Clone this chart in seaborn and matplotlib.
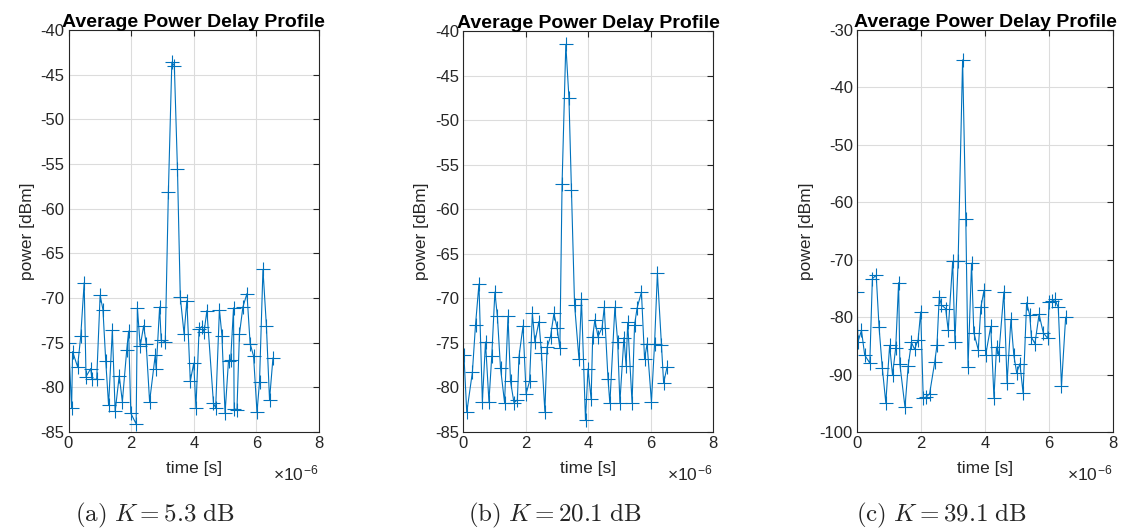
import numpy as np
import pandas as pd
import matplotlib
matplotlib.use("Agg")
import matplotlib.pyplot as plt
import seaborn as sns

# time axis in units of 1e-6 s, power in dBm
time_a = [0.00, 0.10, 0.13, 0.29, 0.39, 0.50, 0.56, 0.71, 0.75, 0.90, 1.01, 1.10,
          1.19, 1.28, 1.40, 1.49, 1.62, 1.72, 1.86, 1.92, 1.99, 2.16, 2.20, 2.29,
          2.40, 2.48, 2.59, 2.77, 2.80, 2.91, 2.96, 3.09, 3.19, 3.30, 3.38, 3.48,
          3.57, 3.69, 3.78, 3.89, 4.00, 4.07, 4.17, 4.26, 4.33, 4.42, 4.63, 4.70,
          4.82, 4.90, 5.00, 5.11, 5.18, 5.27, 5.29, 5.38, 5.46, 5.57, 5.70, 5.80,
          5.91, 6.02, 6.10, 6.21, 6.32, 6.42, 6.53]
power_a = [-75.0, -82.3, -76.0, -77.7, -74.3, -68.3, -78.8, -77.9, -79.1, -79.1, -69.7, -71.3,
           -77.1, -82.0, -73.6, -82.7, -78.7, -81.6, -75.8, -73.7, -82.9, -84.1, -71.1, -75.4,
           -73.1, -75.1, -81.6, -76.4, -78.0, -71.0, -74.7, -74.9, -58.1, -43.6, -44.0, -55.6,
           -69.9, -74.0, -70.3, -79.3, -77.3, -82.3, -73.5, -73.2, -73.8, -71.4, -81.8, -82.3,
           -71.3, -74.2, -82.9, -77.0, -76.9, -71.1, -82.4, -82.5, -74.0, -71.0, -69.5, -75.1,
           -76.5, -82.8, -79.4, -66.8, -73.1, -81.4, -76.7]

time_b = [0.03, 0.12, 0.30, 0.40, 0.51, 0.62, 0.72, 0.83, 0.92, 1.02, 1.10, 1.20,
          1.33, 1.44, 1.52, 1.63, 1.74, 1.79, 1.92, 2.02, 2.13, 2.22, 2.30, 2.43,
          2.51, 2.62, 2.69, 2.80, 2.91, 3.01, 3.10, 3.17, 3.29, 3.39, 3.47, 3.57,
          3.71, 3.79, 3.92, 4.00, 4.10, 4.15, 4.22, 4.32, 4.45, 4.52, 4.64, 4.70,
          4.86, 4.95, 5.02, 5.15, 5.22, 5.27, 5.41, 5.49, 5.57, 5.71, 5.81, 5.89,
          6.03, 6.13, 6.22, 6.35, 6.42, 6.53]
power_b = [-76.4, -82.8, -78.3, -73.0, -68.4, -81.6, -74.9, -81.6, -76.5, -69.3, -72.0, -77.8,
           -81.7, -72.0, -79.3, -81.7, -81.4, -76.6, -73.1, -80.7, -79.3, -71.7, -74.9, -72.6,
           -76.1, -82.7, -75.5, -74.3, -71.7, -73.3, -75.6, -57.2, -41.5, -47.5, -57.8, -70.7,
           -76.8, -70.1, -83.7, -77.9, -81.3, -74.3, -72.4, -74.3, -73.3, -71.0, -79.0, -81.8,
           -71.0, -74.9, -81.7, -74.4, -77.6, -72.7, -81.7, -73.0, -71.1, -69.3, -76.8, -75.1,
           -81.6, -75.1, -67.2, -75.2, -79.5, -77.7]

time_c = [0.00, 0.03, 0.14, 0.24, 0.40, 0.48, 0.60, 0.69, 0.79, 0.90, 1.02, 1.11,
          1.21, 1.30, 1.34, 1.50, 1.60, 1.70, 1.80, 1.91, 1.99, 2.07, 2.17, 2.27,
          2.43, 2.50, 2.57, 2.64, 2.77, 2.85, 2.99, 3.06, 3.16, 3.30, 3.40, 3.47,
          3.58, 3.65, 3.79, 3.87, 3.97, 4.02, 4.18, 4.28, 4.36, 4.43, 4.59, 4.69,
          4.81, 4.90, 4.99, 5.09, 5.19, 5.30, 5.40, 5.45, 5.56, 5.69, 5.82, 5.96,
          6.00, 6.10, 6.18, 6.29, 6.39, 6.52]
power_c = [-75.6, -84.3, -82.3, -86.6, -88.0, -73.3, -72.7, -81.8, -88.8, -94.9, -84.9, -90.1,
           -85.3, -74.0, -88.2, -95.7, -88.5, -84.4, -85.6, -83.9, -79.1, -94.1, -93.9, -93.3,
           -87.8, -84.8, -76.5, -77.9, -78.5, -82.3, -70.3, -84.3, -70.3, -35.2, -62.9, -88.6,
           -70.6, -82.7, -85.7, -78.3, -75.3, -86.6, -81.6, -94.0, -85.2, -86.6, -75.6, -91.4,
           -80.4, -86.6, -89.7, -88.1, -93.2, -77.5, -79.7, -83.5, -84.6, -79.5, -82.7, -83.7,
           -77.4, -77.2, -76.9, -78.3, -92.0, -80.0]

captions = ["(a)", "(b)", "(c)"]
k_values = ["5.3", "20.1", "39.1"]
y_limits = [(-85, -40), (-85, -40), (-100, -30)]
y_steps = [5, 5, 10]

sns.set_style("white")
plt.rcParams["font.family"] = ["Liberation Sans", "DejaVu Sans"]
plt.rcParams["axes.unicode_minus"] = False
plt.rcParams["mathtext.fontset"] = "cm"

line_color = "#0072BD"

fig = plt.figure(figsize=(11.28, 5.32), dpi=100)
W, H = 1128, 532
# axes boxes in pixels: left, right, top, bottom
boxes = [(68.5, 319, 30, 432), (463, 713, 31, 432), (857, 1113, 30, 432)]
cap_x = [155, 555, 942]

series = [(time_a, power_a), (time_b, power_b), (time_c, power_c)]

for i, ((t, p), (l, r, top, bot)) in enumerate(zip(series, boxes)):
    ax = fig.add_axes([l / W, 1 - bot / H, (r - l) / W, (bot - top) / H])
    df = pd.DataFrame({"time": t, "power": p})
    sns.lineplot(data=df, x="time", y="power", ax=ax, sort=False, color=line_color,
                 linewidth=0.8, marker="+", markersize=10, markeredgewidth=0.8,
                 markeredgecolor=line_color)
    lo, hi = y_limits[i]
    ax.set_xlim(0, 8)
    ax.set_ylim(lo, hi)
    ax.set_xticks([0, 2, 4, 6, 8])
    ax.set_yticks(np.arange(lo, hi + 1, y_steps[i]))
    ax.grid(True, color="#dcdcdc", linewidth=0.8)
    ax.tick_params(direction="in", length=4, width=0.8, top=True, right=True,
                   labelsize=12, colors="#262626", pad=3)
    for s in ax.spines.values():
        s.set_color("#262626")
        s.set_linewidth(0.8)
    ax.set_xlabel("time [s]", fontsize=12.5, color="#262626", labelpad=7)
    ax.set_ylabel("power [dBm]", fontsize=12.5, color="#262626", labelpad=4)
    ax.set_title("Average Power Delay Profile", fontsize=14, fontweight="bold",
                 color="black", pad=2)
    ax.text(1.0, -0.08, r"×10$^{\mathregular{-6}}$",
            transform=ax.transAxes, ha="right", va="top", fontsize=12.5, color="#262626")
    fig.text(cap_x[i] / W, 1 - 515 / H,
             r"$\mathrm{" + captions[i] + r"}\ K = \mathrm{" + k_values[i] + r"\ dB}$",
             ha="center", va="center", fontsize=18)

fig.savefig("out.png", dpi=100)
